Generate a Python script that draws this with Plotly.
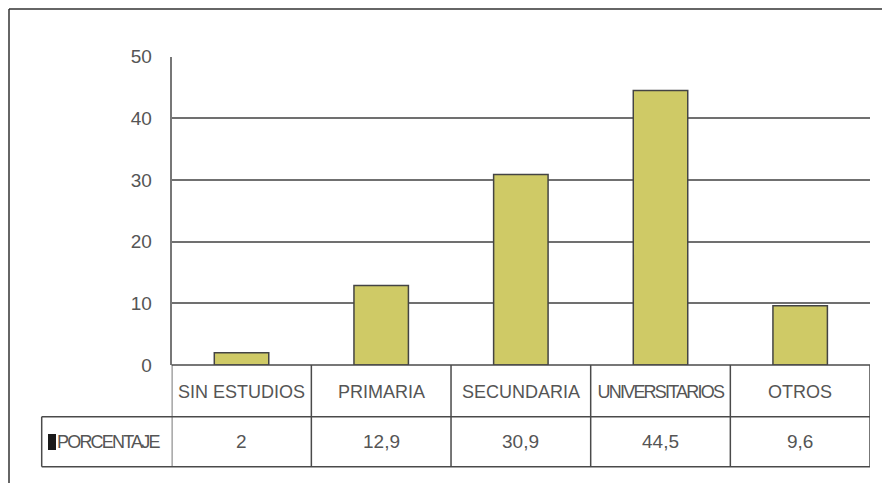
import plotly.graph_objects as go

# Nivel de estudios (porcentaje)
categorias = ["SIN ESTUDIOS", "PRIMARIA", "SECUNDARIA", "UNIVERSITARIOS", "OTROS"]
porcentaje = [2, 12.9, 30.9, 44.5, 9.6]
y_ticks = [0, 10, 20, 30, 40, 50]
serie = "PORCENTAJE"

W, H = 882, 483
X0, X1 = 171.7, 870.0      # plot area, pixels
Y_TOP, Y_ZERO = 56.7, 365.0
ROW1_BOTTOM, ROW2_BOTTOM = 416.7, 466.7
TABLE_LEFT = 41.7

BAR_COLOR = "#cfca66"
TEXT_COLOR = "#555555"
LINE_COLOR = "#4a4a4a"
GRID_COLOR = "#707070"
FONT = "Liberation Sans, Arial"


def px(x):
    return x / W


def py(y):
    return 1 - y / H


def fmt(v):
    return str(int(v)) if float(v).is_integer() else str(v).replace(".", ",")


idx = list(range(len(categorias)))

fig = go.Figure()
fig.add_trace(go.Bar(
    x=idx, y=porcentaje, width=0.39,
    marker=dict(color=BAR_COLOR, line=dict(color="#444444", width=1.5)),
    hoverinfo="skip", showlegend=False,
))

shapes = []
line = dict(color=LINE_COLOR, width=1.5)

# outer frame (left and top edges)
shapes.append(dict(type="line", xref="paper", yref="paper",
                   x0=px(9), x1=1, y0=py(9), y1=py(9),
                   line=dict(color="#333333", width=1.5)))
shapes.append(dict(type="line", xref="paper", yref="paper",
                   x0=px(9), x1=px(9), y0=py(9), y1=0,
                   line=dict(color="#333333", width=1.5)))

# table horizontal rules
shapes.append(dict(type="line", xref="paper", yref="paper",
                   x0=px(X0), x1=px(X1), y0=py(Y_ZERO), y1=py(Y_ZERO), line=line))
for yb in (ROW1_BOTTOM, ROW2_BOTTOM):
    shapes.append(dict(type="line", xref="paper", yref="paper",
                       x0=px(TABLE_LEFT), x1=px(X1), y0=py(yb), y1=py(yb), line=line))

# table vertical rules at category boundaries
for i in range(len(categorias) + 1):
    shapes.append(dict(type="line", xref="x", yref="paper",
                       x0=i - 0.5, x1=i - 0.5, y0=py(Y_ZERO), y1=py(ROW2_BOTTOM), line=line))
shapes.append(dict(type="line", xref="paper", yref="paper",
                   x0=px(TABLE_LEFT), x1=px(TABLE_LEFT),
                   y0=py(ROW1_BOTTOM), y1=py(ROW2_BOTTOM), line=line))

# series key
shapes.append(dict(type="rect", xref="paper", yref="paper",
                   x0=px(48), x1=px(56), y0=py(450), y1=py(434),
                   fillcolor="#1a1a1a", line=dict(width=0)))

annotations = []
row1_mid = (Y_ZERO + ROW1_BOTTOM) / 2
row2_mid = (ROW1_BOTTOM + ROW2_BOTTOM) / 2
for i, (c, v) in enumerate(zip(categorias, porcentaje)):
    annotations.append(dict(x=i, y=py(row1_mid + 1), xref="x", yref="paper",
                            text=c, showarrow=False, yanchor="middle",
                            font=dict(size=18, color=TEXT_COLOR, family=FONT)))
    annotations.append(dict(x=i, y=py(row2_mid), xref="x", yref="paper",
                            text=fmt(v), showarrow=False, yanchor="middle",
                            font=dict(size=19, color=TEXT_COLOR, family=FONT)))
annotations.append(dict(x=px(107.5), y=py(row2_mid), xref="paper", yref="paper",
                        text=serie, showarrow=False, xanchor="center", yanchor="middle",
                        font=dict(size=18, color=TEXT_COLOR, family=FONT)))

fig.update_layout(
    width=W, height=H,
    margin=dict(l=0, r=0, t=0, b=0, pad=0, autoexpand=False),
    paper_bgcolor="white", plot_bgcolor="white",
    showlegend=False,
    xaxis=dict(domain=[px(X0), px(X1)], range=[-0.5, len(categorias) - 0.5],
               showticklabels=False, showgrid=False, zeroline=False,
               showline=False, fixedrange=True, automargin=False),
    yaxis=dict(domain=[py(Y_ZERO), py(Y_TOP)], range=[0, 50],
               tickvals=y_ticks, ticktext=[str(t) for t in y_ticks],
               showgrid=True, gridcolor=GRID_COLOR, gridwidth=2,
               zeroline=False, showline=True, linecolor="#777777", linewidth=2,
               ticks="", ticklabelstandoff=14, automargin=False,
               tickfont=dict(size=19, color=TEXT_COLOR, family=FONT),
               fixedrange=True),
    shapes=shapes,
    annotations=annotations,
)

# tighter tracking for the two longest labels so they fit their cells
fig.write_html("out.html", post_script=(
    "document.querySelectorAll('.annotation-text').forEach(function(t){"
    "if(t.textContent==='UNIVERSITARIOS'||t.textContent==='PORCENTAJE'){"
    "t.style.letterSpacing='-1.8px';}});"
))
